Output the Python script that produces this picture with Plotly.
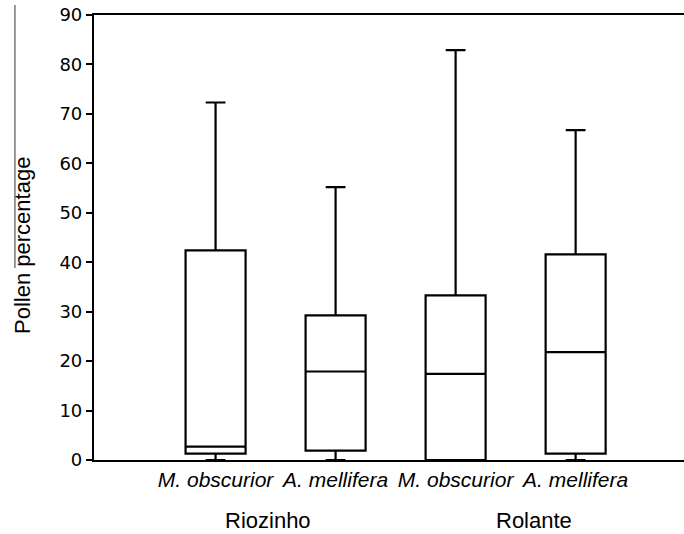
import plotly.graph_objects as go

# Data
categories = ["M. obscurior", "A. mellifera", "M. obscurior", "A. mellifera"]
groups = ["Riozinho", "Rolante"]
q1 = [1.3, 1.9, 0.0, 1.3]
median = [2.7, 17.9, 17.4, 21.8]
q3 = [42.4, 29.25, 33.3, 41.6]
lowerfence = [0.0, 0.0, 0.0, 0.0]
upperfence = [72.3, 55.2, 82.9, 66.7]
yticks = [0, 10, 20, 30, 40, 50, 60, 70, 80, 90]

positions = list(range(len(categories)))

fig = go.Figure()
fig.add_trace(go.Box(
    x=positions,
    q1=q1, median=median, q3=q3,
    lowerfence=lowerfence, upperfence=upperfence,
    width=0.5,
    whiskerwidth=0.33,
    fillcolor="white",
    line=dict(color="black", width=2.2),
    boxpoints=False,
    showlegend=False,
    hoverinfo="skip",
))

fig.update_layout(
    width=684, height=534,
    margin=dict(l=94, r=0, t=15, b=74),
    plot_bgcolor="white", paper_bgcolor="white",
    xaxis=dict(
        range=[-1.013, 3.903],
        tickmode="array", tickvals=positions,
        ticktext=["<i>%s</i>" % c for c in categories],
        showline=True, linecolor="black", linewidth=2.2, mirror=True,
        ticks="", showgrid=False, zeroline=False,
        tickfont=dict(family="Liberation Sans, Arial", size=21, color="black"),
    ),
    yaxis=dict(
        range=[0, 90],
        tickmode="array", tickvals=yticks,
        showline=True, linecolor="black", linewidth=2.2,
        ticks="outside", ticklen=6, tickwidth=2, tickcolor="black",
        showgrid=False, zeroline=False,
        tickfont=dict(family="DejaVu Sans", size=18, color="black"),
    ),
)

# group labels
group_x = [0.44, 2.65]
for g, gx in zip(groups, group_x):
    fig.add_annotation(x=gx, xref="x", y=-0.135, yref="paper",
                       text=g, showarrow=False, xanchor="center", yanchor="middle",
                       font=dict(family="Liberation Sans, Arial", size=22, color="black"))

# y title
fig.add_annotation(x=-0.1203, xref="paper", y=0.481, yref="paper",
                   text="Pollen percentage", textangle=-90, showarrow=False,
                   xanchor="center", yanchor="middle",
                   font=dict(family="Liberation Sans, Arial", size=22, color="black"))

# thin line artifact beside the title
fig.add_shape(type="line", xref="paper", yref="paper",
              x0=-0.134, x1=-0.134, y0=0.4315, y1=1.0225,
              line=dict(color="#333333", width=1))

fig.write_html("out.html")
